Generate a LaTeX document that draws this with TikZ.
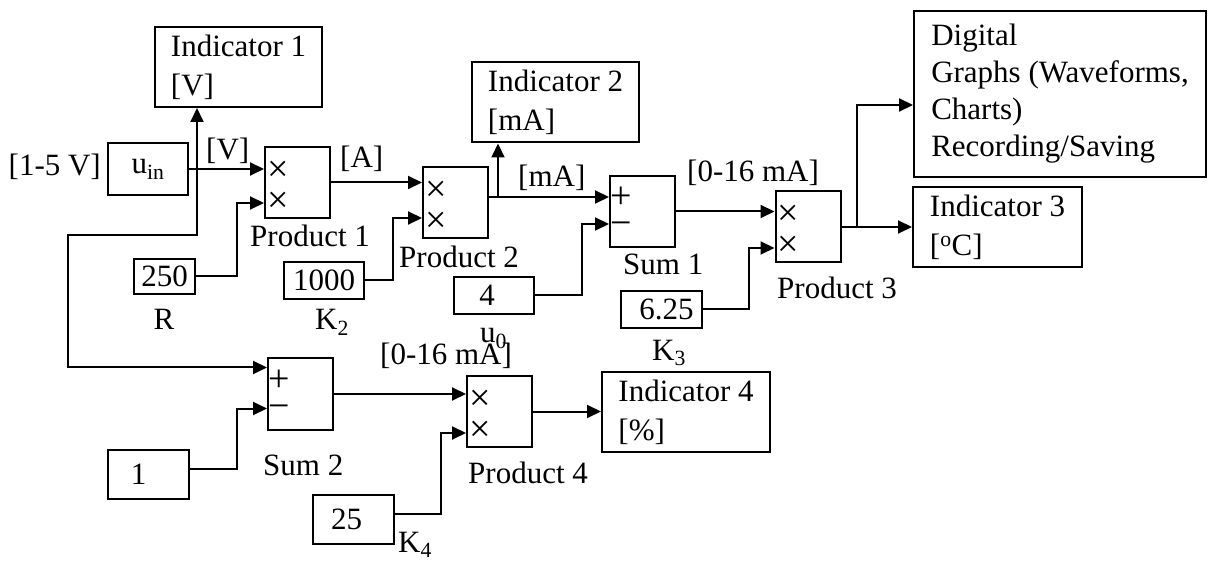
\documentclass[tikz,border=0pt]{standalone}
\usepackage{fontspec}
\setmainfont{Liberation Serif}
\usetikzlibrary{arrows.meta,calc}
\definecolor{bdInk}{HTML}{000000}
\newcommand{\BDType}{\fontsize{31}{39}\selectfont}
\tikzset{bd/base/.style={x=1pt,y=-1pt,line cap=butt,line join=miter,
  every node/.style={font=\BDType,text=bdInk}},
  bd/sig/.style={-{Triangle[length=14pt,width=13pt]},draw=bdInk,line width=2pt},
  bd/block/.style={draw=bdInk,line width=2pt,minimum width=65pt,minimum height=71pt,inner sep=0pt},
  bd/const/.style={draw=bdInk,line width=2pt,inner sep=0pt},
  bd/ind/.style={draw=bdInk,line width=2pt,minimum width=167pt,minimum height=80pt,
    inner sep=0pt,align=left,execute at begin node={\rule{0pt}{27pt}}},
  bd/lbl/.style={inner sep=0pt,anchor=base west},
  bd/sym/.style={inner sep=0pt,font=\fontsize{38}{38}\selectfont}}

\begin{document}
\begin{tikzpicture}[bd/base]
  \useasboundingbox (0,0) rectangle (1208,561);
  % blocks
  \node[bd/block] (p1) at (297.5,182.5) {};
  \node[bd/block] (p2) at (455.5,203) {};
  \node[bd/block] (sum1) at (642.5,211.5) {};
  \node[bd/block] (p3) at (808,227) {};
  \node[bd/block] (sum2) at (300.5,394) {};
  \node[bd/block] (p4) at (499.5,411.5) {};
  \foreach \b in {p1,p2,p3,p4}{
    \node[bd/sym] (\b-a) at ($(\b.north west)+(14,25)$) {×};
    \node[bd/sym] (\b-b) at ($(\b.north west)+(14,56)$) {×};}
  \foreach \b in {sum1,sum2}{
    \node[bd/sym] (\b-a) at ($(\b.north west)+(12,23)$) {+};
    \node[bd/sym] (\b-b) at ($(\b.north west)+(12,54)$) {−};}
  % constants
  \node[bd/const,minimum width=80pt,minimum height=52pt] (uin) at (148,169) {u\textsubscript{in}};
  \node[bd/const,minimum width=61pt,minimum height=35pt] (r) at (164.5,276.5) {250};
  \node[bd/const,minimum width=80pt,minimum height=37pt] (k2) at (324,280.5) {1000};
  \node[bd/const,minimum width=80pt,minimum height=37pt] (u0) at (494,295.5) {4\hspace*{14pt}};
  \node[bd/const,minimum width=81pt,minimum height=37pt] (k3) at (661.5,309.5) {\hspace*{10pt}6.25};
  \node[bd/const,minimum width=81pt,minimum height=49pt] (one) at (148.5,474.5) {1\hspace*{20pt}};
  \node[bd/const,minimum width=81pt,minimum height=49pt] (k4) at (353.5,519.5) {25\hspace*{14pt}};
  % indicators
  \node[bd/ind] (ind1) at (238.5,67) {Indicator 1\\{}[V]};
  \node[bd/ind] (ind2) at (555.5,102.5) {Indicator 2\\{}[mA]};
  \node[bd/ind,minimum width=169pt] (ind3) at (997.5,227) {Indicator 3\\{}[\textsuperscript{o}C]};
  \node[bd/ind,minimum width=168pt] (ind4) at (686,412) {Indicator 4\\{}[\%]};
  \node[bd/ind,minimum width=292pt,minimum height=166pt,font=\fontsize{31}{37}\selectfont] (dig)
    at (1060,94) {Digital\\Graphs (Waveforms,\\Charts)\\Recording/Saving};
  % signal lines
  \coordinate (tap1) at ($(uin.east)+(8,0)$);
  \draw[bd/sig] (uin.east) -- (uin.east -| p1.west);
  \draw[bd/sig] (tap1) -- (tap1 |- ind1.south);
  \draw[bd/sig] (tap1) -- ++(0,66) -- ++(-129,0) |- ([yshift=-10pt]sum2.north west);
  \draw[bd/sig] (r.east) -- ++(41,0) |- ([yshift=16pt]p1.south west);
  \draw[bd/sig] (p1.east) -- (p1.east -| p2.west);
  \draw[bd/sig] (k2.east) -- ++(28,0) |- ([yshift=21.5pt]p2.south west);
  \coordinate (p2out) at ([yshift=6pt]p2.east);
  \coordinate (tap2) at ($(p2out)+(9,0)$);
  \draw[bd/sig] (p2out) -- (p2out -| sum1.west);
  \draw[bd/sig] (tap2) -- (tap2 |- ind2.south);
  \draw[bd/sig] (u0.east) -- ++(47,0) |- ([yshift=24pt]sum1.south west);
  \draw[bd/sig] (sum1.east) -- (sum1.east -| p3.west);
  \draw[bd/sig] (k3.east) -- ++(46,0) |- ([yshift=15.5pt]p3.south west);
  \coordinate (tap3) at ($(p3.east)+(15,0)$);
  \draw[bd/sig] (p3.east) -- (p3.east -| ind3.west);
  \draw[bd/sig] (tap3) |- ([yshift=-11pt]dig.west);
  \draw[bd/sig] ([yshift=5.5pt]one.east) -- ++(47,0) |- ([yshift=22pt]sum2.south west);
  \draw[bd/sig] (sum2.east) -- (sum2.east -| p4.west);
  \draw[bd/sig] ([yshift=5.5pt]k4.east) -- ++(46,0) |- ([yshift=15pt]p4.south west);
  \draw[bd/sig] (p4.east) -- (p4.east -| ind4.west);
  % labels
  \node[bd/lbl,anchor=base east] (range) at (101,176) {[1-5 V]};
  \node[bd/lbl] (lv) at (206,160) {[V]};
  \node[bd/lbl] (la) at (340,168) {[A]};
  \node[bd/lbl] (lp1) at (250,247) {Product 1};
  \node[bd/lbl,anchor=base] (lr) at (164,330) {R};
  \node[bd/lbl] (lk2) at (315,330) {K\textsubscript{2}};
  \node[bd/lbl] (lp2) at (399,268) {Product 2};
  \node[bd/lbl] (lma) at (518,187) {[mA]};
  \node[bd/lbl] (ls1) at (623,275) {Sum 1};
  \node[bd/lbl] (lu0) at (480,343) {u\textsubscript{0}};
  \node[bd/lbl] (lrng1) at (687,182) {[0-16 mA]};
  \node[bd/lbl] (lrng2) at (380,365) {[0-16 mA]};
  \node[bd/lbl] (lk3) at (652,360) {K\textsubscript{3}};
  \node[bd/lbl] (lp3) at (777,299) {Product 3};
  \node[bd/lbl] (ls2) at (263,475) {Sum 2};
  \node[bd/lbl] (lp4) at (468,483) {Product 4};
  \node[bd/lbl] (lk4) at (398,552) {K\textsubscript{4}};
\end{tikzpicture}
\end{document}
